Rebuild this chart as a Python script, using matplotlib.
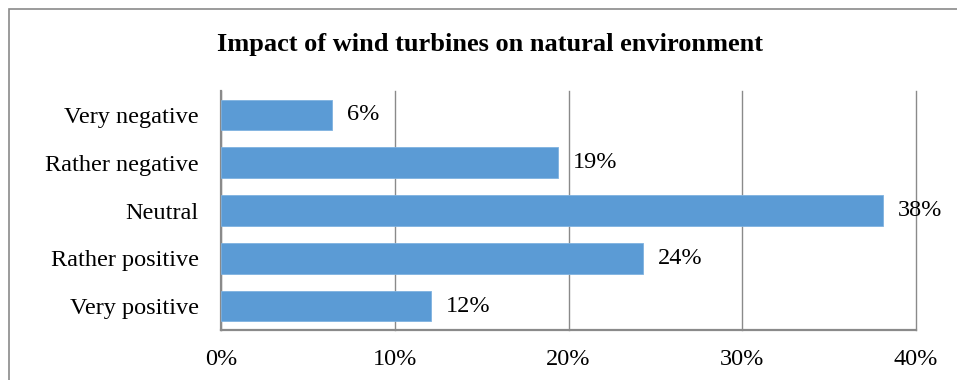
import matplotlib
matplotlib.use("Agg")
import matplotlib.pyplot as plt
from matplotlib.patches import Rectangle

categories = ["Very positive", "Rather positive", "Neutral", "Rather negative", "Very negative"]
shares = [12.1, 24.3, 38.1, 19.4, 6.4]
x_ticks = [0, 10, 20, 30, 40]
x_tick_labels = ["0%", "10%", "20%", "30%", "40%"]

plt.rcParams["font.family"] = ["Liberation Serif", "DejaVu Serif"]

fig = plt.figure(figsize=(9.57, 3.80), dpi=100)
ax = fig.add_axes([0.2309, 0.1316, 0.7263, 0.6289])

grey = "#8a8a8a"
pos = list(range(len(categories)))
ax.barh(pos, shares, height=0.64, color="#5b9bd5", edgecolor="#7fb2e0", linewidth=0.6, zorder=3)

for p, v in zip(pos, shares):
    ax.annotate(f"{v:.0f}%", xy=(v, p), xytext=(15, 0), textcoords="offset pixels",
                ha="left", va="center", fontsize=17.5, zorder=4)

ax.set_xlim(0, 40)
ax.set_ylim(-0.5, len(categories) - 0.5)
ax.set_xticks(x_ticks)
ax.set_xticklabels(x_tick_labels)
ax.set_yticks(pos)
ax.set_yticklabels(categories)
ax.tick_params(axis="both", length=0, labelsize=17.5)
ax.tick_params(axis="x", pad=14)
ax.tick_params(axis="y", pad=16)

ax.xaxis.grid(True, color=grey, linewidth=1.0, zorder=0)
for line in ax.get_xgridlines():
    line.set_clip_on(False)
ax.set_axisbelow(True)
for side in ["top", "right"]:
    ax.spines[side].set_visible(False)
for side in ["left", "bottom"]:
    ax.spines[side].set_color(grey)
    ax.spines[side].set_linewidth(1.6)

fig.text(490 / 957, 1 - 45 / 380, "Impact of wind turbines on natural environment",
         ha="center", va="center", fontsize=19, fontweight="bold")

# outer chart frame, running off the right and bottom edges
fig.patches.append(Rectangle((9 / 957, -0.1), 1.2, 1 - 9 / 380 + 0.1, transform=fig.transFigure,
                             fill=False, edgecolor=grey, linewidth=1.2))

fig.savefig("out.png", dpi=100)
